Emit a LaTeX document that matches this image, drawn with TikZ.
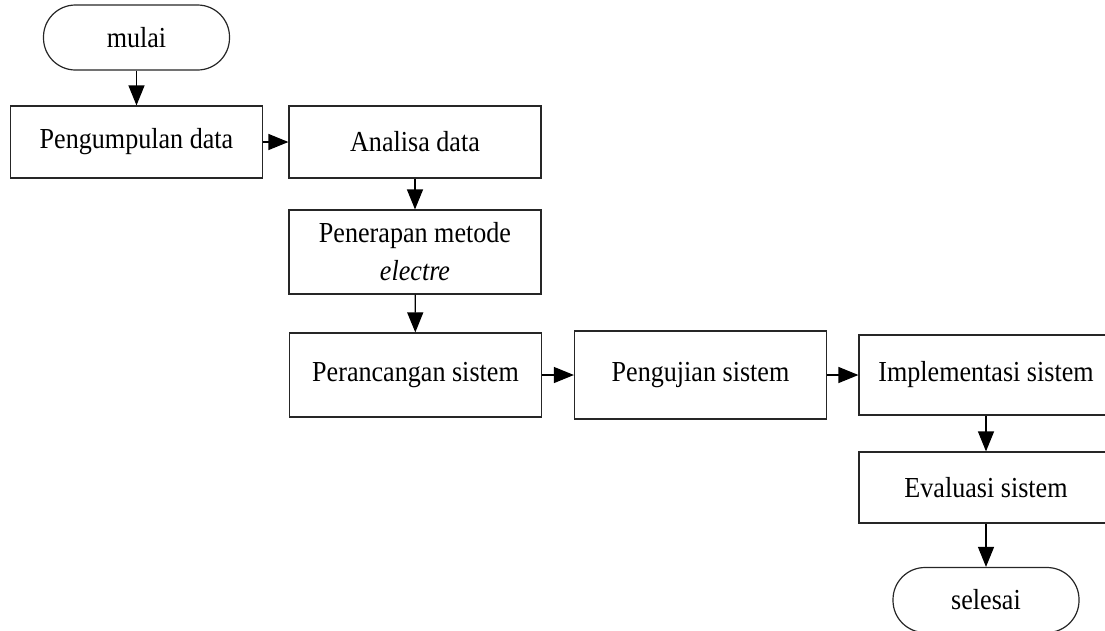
\documentclass[tikz,border=0pt]{standalone}
\usepackage{fontspec}
\setmainfont{Liberation Serif}[FakeStretch=0.9]
\usetikzlibrary{arrows.meta}

\begin{document}
\begin{tikzpicture}[
    x=1pt, y=-1pt,
    line width=1.2pt,
    box/.style={
        draw=black!85,
        minimum width=252pt,
        minimum height=80pt,
        align=center,
        inner sep=0pt,
        font=\fontsize{29}{38}\selectfont
    },
    ujung/.style={
        box,
        rounded corners=32pt,
        minimum width=186pt,
        minimum height=65pt
    },
    panah/.style={
        draw=black,
        -{Triangle[length=20pt,width=16pt]}
    }
]
    \useasboundingbox (0,0) rectangle (1105,630);

    \node[ujung] (mulai) at (136.5,37.5) {mulai};

    \node[box, minimum height=72pt] (kumpul) at (136.5,142) {Pengumpulan data};
    \node[box, minimum height=72pt] (analisa) at (415,142) {Analisa data};
    \node[box, minimum height=84pt] (metode) at (415,252)
        {Penerapan metode\\\textit{electre}};

    \node[box, minimum height=84pt] (rancang) at (415.5,375) {Perancangan sistem};
    \node[box, minimum height=88pt] (uji) at (700.5,375) {Pengujian sistem};
    \node[box, minimum width=254pt] (implementasi) at (986,375)
        {Implementasi sistem};
    \node[box, minimum width=254pt, minimum height=71pt] (evaluasi) at (986,487.5)
        {Evaluasi sistem};

    \node[ujung] (selesai) at (986,600) {selesai};

    % alur
    \draw[panah] (mulai) -- (kumpul);
    \draw[panah] (kumpul) -- (analisa);
    \draw[panah] (analisa) -- (metode);
    \draw[panah] (metode) -- (rancang);
    \draw[panah] (rancang) -- (uji);
    \draw[panah] (uji) -- (implementasi);
    \draw[panah] (implementasi) -- (evaluasi);
    \draw[panah] (evaluasi) -- (selesai);
\end{tikzpicture}
\end{document}
